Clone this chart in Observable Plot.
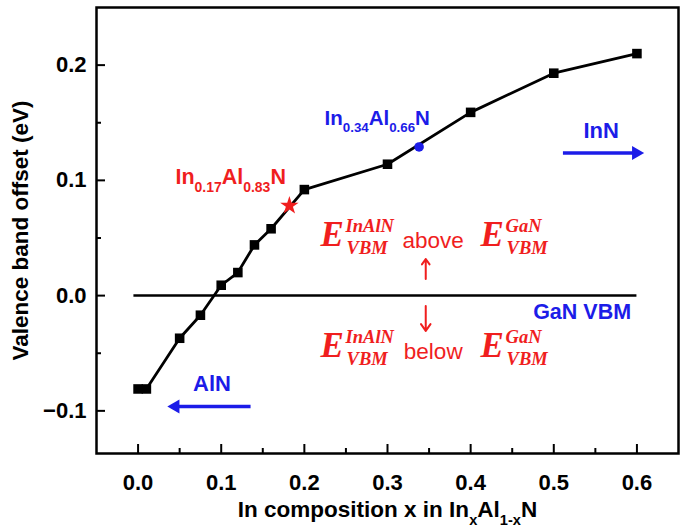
<!DOCTYPE html>
<html><head><meta charset="utf-8">
<script src="https://cdn.jsdelivr.net/npm/d3@7"></script>
<script src="https://cdn.jsdelivr.net/npm/@observablehq/plot@0.6"></script>
<style>body{margin:0;background:#fff;} #chart{width:685px;height:530px}</style>
</head><body><div id="chart"></div>
<script>
// ---- data ----
const composition = [0, 0.01, 0.05, 0.075, 0.1, 0.12, 0.14, 0.16, 0.2, 0.3, 0.4, 0.5, 0.6];
const offset = [-0.081, -0.081, -0.037, -0.017, 0.009, 0.020, 0.044, 0.058, 0.092, 0.114, 0.159, 0.193, 0.210];
const starPoint = [{x: 0.182, y: 0.078}];
const bluePoint = [{x: 0.338, y: 0.129}];
const gaNLine = [{y: 0, x1: -0.005, x2: 0.6}];
const xTicks = [0, 0.1, 0.2, 0.3, 0.4, 0.5, 0.6];
const xMinor = [0.05, 0.15, 0.25, 0.35, 0.45, 0.55];
const yTicks = [-0.1, 0, 0.1, 0.2];
const yMinor = [-0.05, 0.05, 0.15];
const xTitle = "In composition x in In_{x}Al_{1-x}N";
const yTitle = "Valence band offset (eV)";
const redLabels = [{x: 0.0449, y: 0.0969, text: "In_{0.17}Al_{0.83}N"}];
const blueLabelsStart = [{x: 0.2243, y: 0.148, text: "In_{0.34}Al_{0.66}N"}];
const blueLabelsMid = [{x: 0.557, y: 0.1368, text: "InN"}, {x: 0.0889, y: -0.0827, text: "AlN"}];
const blueLabelsEnd = [{x: 0.593, y: -0.0203, text: "GaN VBM"}];
const blueArrows = [
  {x1: 0.511, x2: 0.599, y: 0.1237, dir: 90},
  {x1: 0.1353, x2: 0.0449, y: -0.0962, dir: -90}
];
const redArrows = [
  {x: 0.346, y1: 0.0145, y2: 0.0318},
  {x: 0.346, y1: -0.009, y2: -0.0306}
];
const eTerms = [
  {x: 0.2195, y: 0.0431, sup: "InAlN"}, {x: 0.412, y: 0.0431, sup: "GaN"},
  {x: 0.2195, y: -0.0532, sup: "InAlN"}, {x: 0.412, y: -0.0532, sup: "GaN"}
];
const words = [{x: 0.355, y: 0.0416, text: "above"}, {x: 0.355, y: -0.0546, text: "below"}];

const series = composition.map((c, i) => ({x: c, y: offset[i]}));

// ---- layout ----
const W = 685, H = 530;
const mL = 96, mR = 7, mT = 7, mB = 77;
const innerW = W - mL - mR, innerH = H - mT - mB;
const red = "#f01e1e", blue = "#1c1ce8";
const sans = "'Liberation Sans', Arial, sans-serif";
const serif = "'Liberation Serif', 'Times New Roman', serif";
const fsTick = 22, fsTitle = 22.5, fsLab = 21.5;

const chart = Plot.plot({
  width: W, height: H,
  marginLeft: mL, marginRight: mR, marginTop: mT, marginBottom: mB,
  style: {fontFamily: sans, fontWeight: "bold", background: "white", color: "black"},
  x: {domain: [-0.05, 0.65]},
  y: {domain: [-0.137, 0.25]},
  marks: [
    Plot.axisX({ticks: xTicks, tickSize: 0, tickPadding: 21, tickFormat: d3.format(".1f"), label: null, fontSize: fsTick, fontWeight: "bold"}),
    Plot.axisY({ticks: yTicks, tickSize: 0, tickPadding: 10, tickFormat: d3.format(".1f"), label: null, fontSize: fsTick, fontWeight: "bold"}),
    Plot.tickX(xTicks, {x: d => d, insetTop: innerH - 9, strokeWidth: 2}),
    Plot.tickX(xMinor, {x: d => d, insetTop: innerH - 5, strokeWidth: 2}),
    Plot.tickY(yTicks, {y: d => d, insetRight: innerW - 9, strokeWidth: 2}),
    Plot.tickY(yMinor, {y: d => d, insetRight: innerW - 5, strokeWidth: 2}),
    Plot.frame({stroke: "black", strokeWidth: 2.5}),
    Plot.text([xTitle], {text: d => d, frameAnchor: "bottom", textAnchor: "middle", lineAnchor: "bottom", dy: 63, fontSize: fsTitle, fontWeight: "bold"}),
    Plot.text([yTitle], {text: d => d, frameAnchor: "left", textAnchor: "middle", lineAnchor: "middle", rotate: -90, dx: -76, fontSize: fsTitle, fontWeight: "bold"}),
    Plot.ruleY(gaNLine, {y: "y", x1: "x1", x2: "x2", stroke: "black", strokeWidth: 2.5}),
    Plot.line(series, {x: "x", y: "y", stroke: "black", strokeWidth: 2.8}),
    Plot.dot(series, {x: "x", y: "y", symbol: "square", fill: "black", r: 5.4, stroke: null}),
    Plot.dot(starPoint, {x: "x", y: "y", symbol: "star", fill: red, r: 5.8, stroke: null}),
    Plot.dot(bluePoint, {x: "x", y: "y", symbol: "circle", fill: blue, r: 4.8, stroke: null}),
    // labels
    Plot.text(redLabels, {x: "x", y: "y", text: "text", textAnchor: "start", lineAnchor: "bottom", fill: red, fontSize: fsLab, fontWeight: "bold"}),
    Plot.text(blueLabelsStart, {x: "x", y: "y", text: "text", textAnchor: "start", lineAnchor: "bottom", fill: blue, fontSize: 20.5, fontWeight: "bold"}),
    Plot.text(blueLabelsMid, {x: "x", y: "y", text: "text", textAnchor: "middle", lineAnchor: "bottom", fill: blue, fontSize: 22, fontWeight: "bold"}),
    Plot.text(blueLabelsEnd, {x: "x", y: "y", text: "text", textAnchor: "end", lineAnchor: "bottom", fill: blue, fontSize: fsLab, fontWeight: "bold"}),
    // blue arrows
    Plot.link(blueArrows, {x1: "x1", x2: "x2", y1: "y", y2: "y", stroke: blue, strokeWidth: 3.5}),
    Plot.dot(blueArrows, {x: "x2", y: "y", symbol: "triangle", rotate: "dir", fill: blue, stroke: null, r: 5.2}),
    // red arrows
    Plot.arrow(redArrows, {x1: "x", x2: "x", y1: "y1", y2: "y2", stroke: red, strokeWidth: 2, headLength: 9, headAngle: 70}),
    // E terms
    Plot.text(eTerms, {x: "x", y: "y", text: () => "E", textAnchor: "start", lineAnchor: "bottom", fill: red, fontFamily: serif, fontStyle: "italic", fontWeight: "bold", fontSize: 35}),
    Plot.text(eTerms, {x: "x", y: "y", text: "sup", dx: 25, dy: -14, textAnchor: "start", lineAnchor: "bottom", fill: red, fontFamily: serif, fontStyle: "italic", fontWeight: "bold", fontSize: 18.5}),
    Plot.text(eTerms, {x: "x", y: "y", text: () => "VBM", dx: 26, dy: 8, textAnchor: "start", lineAnchor: "bottom", fill: red, fontFamily: serif, fontStyle: "italic", fontWeight: "bold", fontSize: 18.5}),
    Plot.text(words, {x: "x", y: "y", text: "text", textAnchor: "middle", lineAnchor: "bottom", fill: red, fontSize: 22.5, fontWeight: "normal"})
  ]
});

document.getElementById("chart").appendChild(chart);

// rich text: _{sub} and ^{sup}
const NS = "http://www.w3.org/2000/svg";
chart.querySelectorAll("text").forEach(el => {
  const s = el.textContent;
  if (!/[_^]\{/.test(s)) return;
  const size = parseFloat(getComputedStyle(el).fontSize) || fsLab;
  el.textContent = "";
  const re = /([_^])\{([^}]*)\}|([^_^]+)/g;
  let m, cur = 0;
  while ((m = re.exec(s))) {
    const t = document.createElementNS(NS, "tspan");
    if (m[1]) {
      const target = m[1] === "_" ? size * 0.36 : -size * 0.4;
      t.setAttribute("dy", target - cur); cur = target;
      t.setAttribute("font-size", size * 0.65);
      t.textContent = m[2];
    } else {
      t.setAttribute("dy", -cur); cur = 0;
      t.textContent = m[3];
    }
    el.appendChild(t);
  }
});
</script>
</body></html>
